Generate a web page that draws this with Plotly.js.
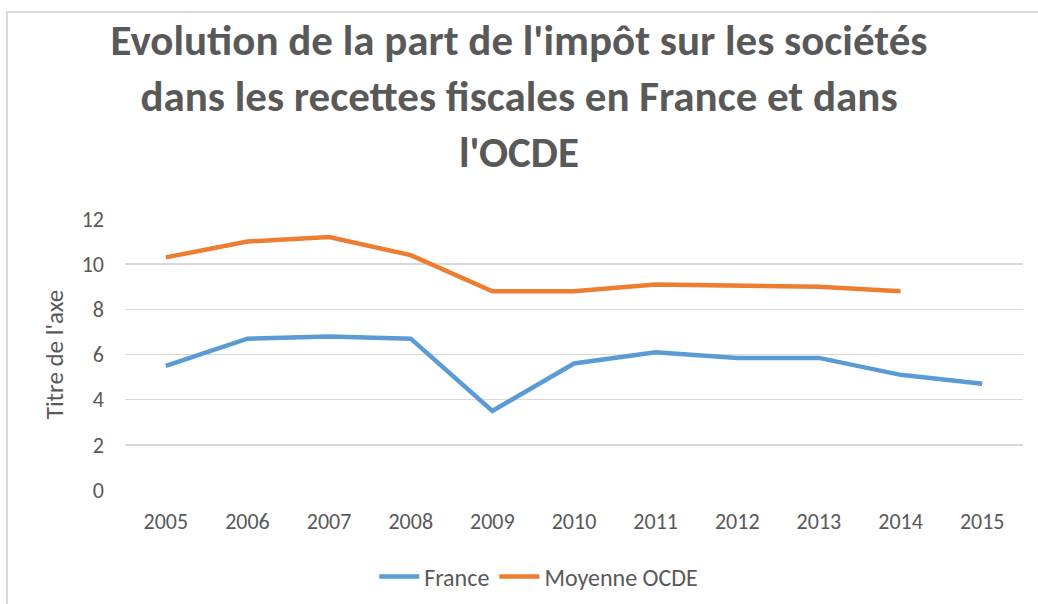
<!DOCTYPE html>
<html>
<head>
<meta charset="utf-8">
<script src="https://cdn.plot.ly/plotly-3.0.1.min.js"></script>
<style>
html,body{margin:0;padding:0;background:#fff;}
#wrap{position:relative;width:1038px;height:604px;overflow:hidden;}
#chart{width:1038px;height:604px;}
#frame{position:absolute;left:6px;top:11px;width:1100px;height:700px;border-left:2px solid #d9d9d9;border-top:2px solid #d9d9d9;pointer-events:none;}
</style>
</head>
<body>
<div id="wrap"><div id="chart"></div><div id="frame"></div></div>
<script>
const years = ['2005','2006','2007','2008','2009','2010','2011','2012','2013','2014','2015'];
const france = [5.5, 6.7, 6.8, 6.7, 3.5, 5.6, 6.1, 5.85, 5.85, 5.1, 4.7];
const ocde = [10.3, 11.0, 11.2, 10.4, 8.8, 8.8, 9.1, 9.05, 9.0, 8.8, null];
const seriesNames = ['France', 'Moyenne OCDE'];
const titleText = "Evolution de la part de l'impôt sur les sociétés<br>dans les recettes fiscales en France et dans<br>l'OCDE";
const yTitle = "Titre de l'axe";

const textColor = '#595959';
const baseFont = 'Carlito, Calibri, Lato, sans-serif';

const traces = [
  {x: years, y: france, name: seriesNames[0], type: 'scatter', mode: 'lines',
   line: {color: '#5B9BD5', width: 4.5}},
  {x: years, y: ocde, name: seriesNames[1], type: 'scatter', mode: 'lines',
   line: {color: '#ED7D31', width: 4.5}, connectgaps: false}
];

const layout = {
  width: 1038, height: 604,
  paper_bgcolor: 'rgba(0,0,0,0)', plot_bgcolor: 'rgba(0,0,0,0)',
  margin: {l: 125, r: 15, t: 219, b: 114},
  font: {family: baseFont, color: textColor, size: 22},
  title: {
    text: titleText,
    font: {family: baseFont, size: 43, color: textColor, weight: 'bold'},
    x: 0.5, xref: 'container', xanchor: 'center',
    y: 1 - 55/604, yref: 'container', yanchor: 'middle'
  },
  xaxis: {
    type: 'category', range: [-0.5, 10.5],
    showgrid: false, zeroline: false, showline: false,
    ticks: '', tickfont: {size: 22, color: textColor},
    ticklabelstandoff: 16
  },
  yaxis: {
    range: [0, 12], dtick: 2, tick0: 0,
    showgrid: true, gridcolor: '#d9d9d9', gridwidth: 1.5,
    zeroline: false, showline: false, ticks: '',
    tickfont: {size: 22, color: textColor},
    ticklabelstandoff: 20,
    title: {text: yTitle, font: {size: 25, color: textColor}, standoff: 10}
  },
  showlegend: true,
  legend: {
    orientation: 'h', xref: 'container', yref: 'container',
    x: 0.519, xanchor: 'center', y: 1 - 577/604, yanchor: 'middle',
    font: {size: 24, color: textColor}, itemwidth: 40
  },
  hovermode: false
};

Plotly.newPlot('chart', traces, layout, {displayModeBar: false, staticPlot: true});
</script>
</body>
</html>
